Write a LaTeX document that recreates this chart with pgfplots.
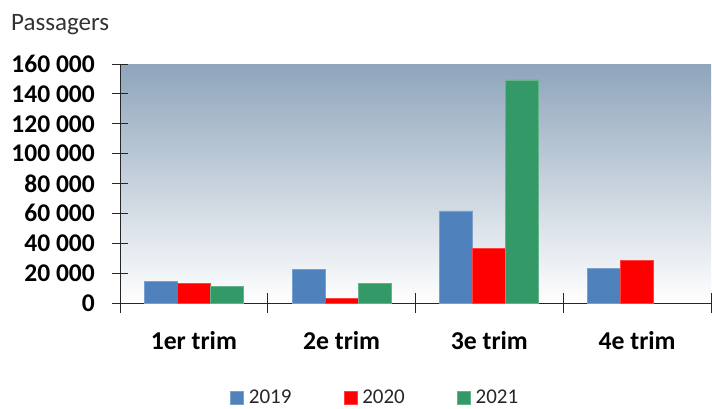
\documentclass[border=0pt]{standalone}
\usepackage{pgfplots}
\pgfplotsset{compat=1.18}
\usepackage{fontspec}
\setmainfont{Carlito}
\definecolor{c2019}{HTML}{4F81BD}
\definecolor{c2020}{HTML}{FF0000}
\definecolor{c2021}{HTML}{339966}
\definecolor{bgtop}{HTML}{8FA5BB}
\definecolor{axcol}{HTML}{262626}
\begin{document}
\begin{tikzpicture}
\useasboundingbox (0,0) rectangle (712pt,408pt);
\node[anchor=base west, inner sep=0pt, text=black!80, font=\fontsize{25}{30}\selectfont] at (11pt,377pt) {Passagers};
\begin{axis}[
  at={(120pt,105pt)}, anchor=south west,
  scale only axis, width=591pt, height=239pt,
  ybar=0pt, bar width=33pt,
  xmin=-0.5, xmax=3.5, ymin=0, ymax=160000,
  axis x line*=bottom, axis y line*=left,
  axis line style={axcol, line width=1pt, -},
  axis background/.style={shade, top color=bgtop, bottom color=white},
  xtick={0,1,2,3}, xticklabels={1er trim,2e trim,3e trim,4e trim},
  major x tick style={draw=none},
  minor xtick={-0.5,0.5,1.5,2.5,3.5},
  minor x tick style={axcol, line width=1pt},
  minor tick length=20pt,
  ytick={0,20000,...,160000},
  major tick length=16pt,
  y tick style={axcol, line width=1pt},
  tick align=center,
  scaled y ticks=false,
  yticklabel style={font=\bfseries\fontsize{25.5}{30}\selectfont, anchor=east, inner sep=0pt, xshift=-17pt,
    /pgf/number format/fixed, /pgf/number format/1000 sep={\ }, /pgf/number format/assume math mode=true},
  xticklabel style={font=\bfseries\fontsize{25.7}{30}\selectfont, anchor=base, inner sep=0pt, yshift=-38pt},
  legend style={at={(0.186,-0.397)}, anchor=west, draw=none, fill=none, inner sep=0pt,
    legend columns=3, font=\fontsize{21}{25}\selectfont, text=black!85, nodes={inner sep=0pt},
    /tikz/every odd column/.append style={column sep=5pt},
    /tikz/every even column/.append style={column sep=52pt}},
  legend image code/.code={\path[#1] (0pt,-6.5pt) rectangle (13pt,6.5pt);},
]
\addplot[fill=c2019, draw=c2019!75!white, line width=0.8pt] coordinates {(0,14200) (1,22400) (2,61600) (3,23400)};
\addplot[fill=c2020, draw=c2020!75!white, line width=0.8pt] coordinates {(0,13100) (1,3100) (2,36500) (3,28200)};
\addplot[fill=c2021, draw=c2021!75!white, line width=0.8pt] coordinates {(0,11300) (1,13100) (2,149300)};
\legend{2019,2020,2021}
\end{axis}
\end{tikzpicture}
\end{document}
